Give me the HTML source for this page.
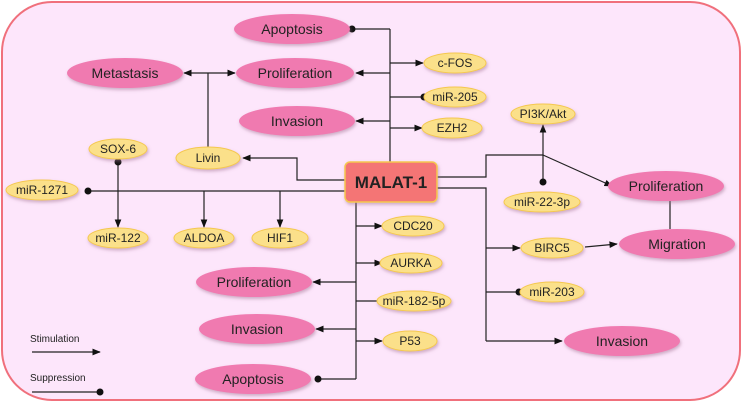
<!DOCTYPE html>
<html><head><meta charset="utf-8"><style>
html,body{margin:0;padding:0;background:#fff;}
svg{display:block;font-family:"Liberation Sans",Arial,sans-serif;}
</style></head><body>
<svg width="744" height="405" viewBox="0 0 744 405" xmlns="http://www.w3.org/2000/svg">
<defs>
<marker id="a" viewBox="0 0 10 10" refX="9" refY="5" markerWidth="7" markerHeight="7" orient="auto-start-reverse"><path d="M0,1 L10,5 L0,9 z" fill="#111"/></marker>
<filter id="sh" x="-20%" y="-20%" width="140%" height="150%"><feDropShadow dx="1" dy="2" stdDeviation="1.5" flood-color="#a07090" flood-opacity="0.5"/></filter>
</defs>
<rect x="2" y="2" width="738" height="398" rx="50" fill="#fde6fb" stroke="#f0707c" stroke-width="2"/>
<g stroke="#222" stroke-width="1.2" fill="none">
<!-- top trunk -->
<line x1="390" y1="29" x2="390" y2="162"/>
<line x1="390" y1="29" x2="352" y2="29"/>
<line x1="390" y1="73" x2="356" y2="73" marker-end="url(#a)"/>
<line x1="390" y1="63" x2="423" y2="63" marker-end="url(#a)"/>
<line x1="390" y1="97" x2="424" y2="97"/>
<line x1="390" y1="121" x2="356" y2="121" marker-end="url(#a)"/>
<line x1="390" y1="128" x2="422" y2="128" marker-end="url(#a)"/>
<!-- Livin -->
<polyline points="345,180 297,180 297,158 243,158" marker-end="url(#a)"/>
<line x1="208" y1="147" x2="208" y2="73"/>
<line x1="208" y1="73" x2="184" y2="73" marker-end="url(#a)"/>
<line x1="208" y1="73" x2="235" y2="73" marker-end="url(#a)"/>
<!-- miR-1271 line -->
<line x1="88" y1="191" x2="345" y2="191"/>
<line x1="118" y1="162" x2="118" y2="227" marker-end="url(#a)"/>
<line x1="204" y1="191" x2="204" y2="227" marker-end="url(#a)"/>
<line x1="280" y1="191" x2="280" y2="227" marker-end="url(#a)"/>
<!-- bottom trunk -->
<line x1="356" y1="202" x2="356" y2="379"/>
<line x1="356" y1="226" x2="382" y2="226" marker-end="url(#a)"/>
<line x1="356" y1="263" x2="382" y2="263" marker-end="url(#a)"/>
<line x1="356" y1="282" x2="313" y2="282" marker-end="url(#a)"/>
<line x1="356" y1="301" x2="385" y2="301"/>
<line x1="356" y1="329" x2="316" y2="329" marker-end="url(#a)"/>
<line x1="356" y1="341" x2="382" y2="341" marker-end="url(#a)"/>
<line x1="356" y1="379" x2="318" y2="379"/>
<!-- right upper -->
<polyline points="437,177 486,177 486,155 543,155"/>
<line x1="543" y1="155" x2="543" y2="125" marker-end="url(#a)"/>
<line x1="543" y1="182" x2="543" y2="155"/>
<line x1="543" y1="155" x2="612" y2="186" marker-end="url(#a)"/>
<!-- right lower -->
<polyline points="437,188 486,188 486,341"/>
<line x1="486" y1="248" x2="520" y2="248" marker-end="url(#a)"/>
<line x1="486" y1="292" x2="519" y2="292"/>
<line x1="486" y1="341" x2="562" y2="341" marker-end="url(#a)"/>
<line x1="585" y1="247" x2="617" y2="244" marker-end="url(#a)"/>
<line x1="670" y1="201" x2="670" y2="229"/>
<!-- legend -->
<line x1="32" y1="352" x2="100" y2="352" marker-end="url(#a)"/>
<line x1="32" y1="392" x2="100" y2="392"/>
</g>
<g fill="#111">
<circle cx="352" cy="29" r="3.5"/><circle cx="424" cy="97" r="3.5"/>
<circle cx="88" cy="191" r="3.5"/><circle cx="118" cy="162" r="3.5"/>
<circle cx="385" cy="301" r="3.5"/><circle cx="318" cy="379" r="3.5"/>
<circle cx="543" cy="182" r="3.5"/><circle cx="519" cy="292" r="3.5"/>
<circle cx="100" cy="392" r="3.5"/>
</g>
<!-- pink ellipses -->
<g fill="#f07ab0" filter="url(#sh)">
<ellipse cx="292" cy="29" rx="58" ry="15"/>
<ellipse cx="125" cy="73" rx="58" ry="15"/>
<ellipse cx="295" cy="73" rx="59" ry="15"/>
<ellipse cx="297" cy="121" rx="58" ry="15"/>
<ellipse cx="666" cy="186" rx="58" ry="15"/>
<ellipse cx="677" cy="244" rx="58" ry="15"/>
<ellipse cx="622" cy="341" rx="58" ry="15"/>
<ellipse cx="254" cy="282" rx="58" ry="15"/>
<ellipse cx="257" cy="329" rx="58" ry="15"/>
<ellipse cx="253" cy="379" rx="58" ry="15"/>
</g>
<!-- yellow ellipses -->
<g fill="#fbe08a" stroke="#f5c850" stroke-width="1" filter="url(#sh)">
<ellipse cx="455" cy="63" rx="31" ry="10"/>
<ellipse cx="455" cy="97" rx="31" ry="10"/>
<ellipse cx="452" cy="128" rx="30" ry="10"/>
<ellipse cx="118" cy="149" rx="29" ry="10"/>
<ellipse cx="208" cy="158" rx="32" ry="11"/>
<ellipse cx="42" cy="190" rx="36" ry="10"/>
<ellipse cx="118" cy="238" rx="30" ry="10"/>
<ellipse cx="204" cy="238" rx="30" ry="10"/>
<ellipse cx="280" cy="238" rx="28" ry="10"/>
<ellipse cx="543" cy="114" rx="32" ry="10"/>
<ellipse cx="542" cy="202" rx="38" ry="10"/>
<ellipse cx="552" cy="248" rx="31" ry="10"/>
<ellipse cx="552" cy="292" rx="32" ry="10"/>
<ellipse cx="413" cy="226" rx="31" ry="10"/>
<ellipse cx="411" cy="263" rx="31" ry="10"/>
<ellipse cx="414" cy="301" rx="37" ry="10"/>
<ellipse cx="410" cy="341" rx="27" ry="10"/>
</g>
<rect x="345" y="162" width="92" height="40" rx="5" fill="#f47474" stroke="#f5c850" stroke-width="1.5" filter="url(#sh)"/>
<text x="391" y="188" text-anchor="middle" font-size="17" font-weight="bold" fill="#222">MALAT-1</text>
<g font-size="14" fill="#222" text-anchor="middle">
<text x="292" y="34">Apoptosis</text>
<text x="125" y="78">Metastasis</text>
<text x="295" y="78">Proliferation</text>
<text x="297" y="126">Invasion</text>
<text x="666" y="191">Proliferation</text>
<text x="677" y="249">Migration</text>
<text x="622" y="346">Invasion</text>
<text x="254" y="287">Proliferation</text>
<text x="257" y="334">Invasion</text>
<text x="253" y="384">Apoptosis</text>
</g>
<g font-size="12" fill="#222" text-anchor="middle">
<text x="455" y="67">c-FOS</text>
<text x="455" y="101">miR-205</text>
<text x="452" y="132">EZH2</text>
<text x="118" y="153">SOX-6</text>
<text x="208" y="162">Livin</text>
<text x="42" y="194">miR-1271</text>
<text x="118" y="242">miR-122</text>
<text x="204" y="242">ALDOA</text>
<text x="280" y="242">HIF1</text>
<text x="543" y="118">PI3K/Akt</text>
<text x="542" y="206">miR-22-3p</text>
<text x="552" y="252">BIRC5</text>
<text x="552" y="296">miR-203</text>
<text x="413" y="230">CDC20</text>
<text x="411" y="267">AURKA</text>
<text x="414" y="305">miR-182-5p</text>
<text x="410" y="345">P53</text>
</g>
<g font-size="10" fill="#222">
<text x="30" y="342">Stimulation</text>
<text x="30" y="381">Suppression</text>
</g>
</svg>
</body></html>
